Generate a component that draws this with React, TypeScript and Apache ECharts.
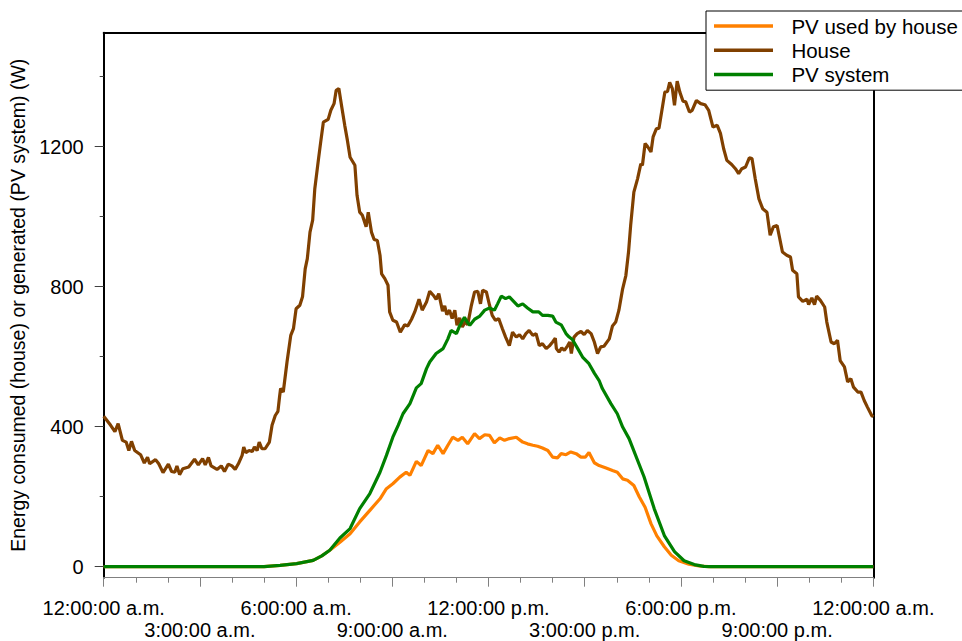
import React, { useEffect, useRef } from "react";
import * as echarts from "echarts";

// x axis: minutes since midnight, ticks every 3 hours
const tickLabels = [
  "12:00:00 a.m.", "3:00:00 a.m.", "6:00:00 a.m.", "9:00:00 a.m.",
  "12:00:00 p.m.", "3:00:00 p.m.", "6:00:00 p.m.", "9:00:00 p.m.", "12:00:00 a.m.",
];
const xLabelRow1 = [0, 360, 720, 1080, 1440];
const xLabelRow2 = [180, 540, 900, 1260];
const yLabelValues = [0, 400, 800, 1200];
const yMinorValues = [200, 600, 1000, 1400];

const seriesNames = ["PV used by house", "House", "PV system"];
const seriesColors = ["#ff8000", "#804000", "#008000"];

// House consumption (W)
const houseTime = [
  0, 13, 21, 27, 35, 42, 47, 52, 58, 69,
  76, 82, 86, 97, 103, 111, 121, 127, 133, 137,
  142, 148, 159, 170, 177, 185, 190, 196, 201, 212,
  220, 226, 233, 240, 246, 252, 259, 262, 266, 272,
  278, 282, 287, 291, 296, 302, 310, 315, 321, 326,
  329, 331, 336, 343, 350, 355, 360, 367, 372, 377,
  381, 386, 391, 395, 402, 406, 411, 420, 425, 431,
  435, 440, 445, 451, 456, 461, 470, 474, 479, 484,
  491, 495, 501, 506, 512, 517, 520, 526, 532, 535,
  541, 548, 555, 563, 569, 576, 582, 590, 596, 604,
  610, 617, 622, 627, 634, 638, 642, 647, 652, 657,
  661, 666, 671, 677, 681, 688, 694, 700, 705, 709,
  716, 722, 727, 733, 739, 746, 752, 759, 765, 772,
  778, 784, 790, 796, 803, 809, 815, 821, 828, 834,
  840, 845, 847, 852, 857, 862, 868, 872, 875, 880,
  886, 893, 899, 905, 912, 918, 924, 930, 936, 946,
  952, 958, 964, 971, 977, 982, 986, 992, 999, 1005,
  1008, 1013, 1017, 1024, 1028, 1034, 1039, 1045, 1050, 1055,
  1059, 1064, 1068, 1073, 1078, 1084, 1089, 1096, 1101, 1109,
  1117, 1125, 1132, 1140, 1148, 1154, 1160, 1166, 1175, 1182,
  1188, 1194, 1201, 1208, 1213, 1219, 1226, 1233, 1241, 1247,
  1253, 1260, 1265, 1270, 1278, 1285, 1289, 1297, 1300, 1308,
  1316, 1319, 1325, 1330, 1334, 1341, 1349, 1353, 1361, 1367,
  1373, 1378, 1386, 1392, 1398, 1403, 1411, 1417, 1423, 1429,
  1437, 1440,
];
const houseWatts = [
  430, 404, 386, 409, 361, 356, 332, 358, 332, 320,
  296, 313, 294, 306, 294, 269, 293, 272, 270, 288,
  263, 280, 285, 307, 291, 309, 291, 312, 288, 278,
  288, 272, 293, 288, 278, 294, 318, 342, 326, 332,
  329, 342, 332, 356, 337, 337, 356, 404, 432, 444,
  485, 509, 499, 585, 661, 680, 737, 747, 771, 851,
  880, 956, 990, 1080, 1166, 1213, 1270, 1278, 1304, 1323,
  1361, 1366, 1318, 1261, 1218, 1170, 1147, 1061, 1013, 1004,
  971, 1013, 956, 935, 932, 890, 837, 823, 804, 728,
  704, 699, 670, 691, 688, 707, 728, 764, 733, 756,
  787, 775, 764, 780, 730, 745, 720, 733, 709, 733,
  690, 711, 685, 701, 691, 747, 785, 787, 751, 790,
  785, 747, 718, 704, 709, 680, 656, 632, 670, 656,
  663, 651, 666, 675, 661, 666, 632, 637, 623, 631,
  642, 653, 623, 613, 625, 618, 631, 642, 609, 656,
  666, 672, 663, 675, 666, 642, 609, 628, 630, 651,
  688, 699, 733, 794, 832, 899, 975, 1070, 1109, 1151,
  1147, 1209, 1202, 1185, 1228, 1251, 1253, 1309, 1356, 1358,
  1384, 1366, 1318, 1387, 1356, 1330, 1328, 1299, 1304, 1332,
  1323, 1320, 1304, 1256, 1261, 1238, 1194, 1161, 1149, 1137,
  1123, 1137, 1142, 1168, 1166, 1109, 1051, 1023, 1013, 947,
  971, 975, 937, 899, 890, 885, 847, 837, 771, 758,
  764, 749, 768, 749, 773, 761, 742, 699, 642, 637,
  647, 589, 571, 528, 537, 513, 499, 499, 475, 456,
  432, 428,
];

// PV system generation (W)
const pvTime = [
  0, 300, 330, 361, 392, 408, 423, 442, 461, 479,
  498, 517, 529, 541, 551, 560, 573, 585, 594, 604,
  610, 622, 635, 644, 650, 660, 666, 675, 680, 685,
  694, 703, 713, 722, 731, 737, 744, 752, 759, 767,
  775, 784, 793, 803, 814, 821, 831, 840, 846, 856,
  865, 871, 877, 887, 896, 908, 918, 927, 933, 949,
  961, 971, 983, 1011, 1030, 1049, 1068, 1086, 1105, 1123,
  1136, 1440,
];
const pvWatts = [
  0, 0, 4, 9, 18, 31, 47, 82, 109, 166,
  209, 270, 318, 370, 404, 437, 466, 511, 523, 566,
  585, 609, 623, 651, 675, 666, 688, 713, 699, 690,
  707, 715, 733, 739, 733, 751, 773, 766, 771, 758,
  745, 751, 739, 728, 728, 718, 718, 716, 699, 691,
  666, 656, 649, 623, 599, 580, 553, 532, 509, 466,
  437, 399, 366, 257, 166, 89, 43, 17, 6, 1,
  0, 0,
];

// PV used by house (W)
const usedTime = [
  0, 300, 330, 361, 392, 408, 423, 442, 461, 479,
  498, 517, 529, 541, 554, 566, 573, 585, 594, 607,
  616, 625, 635, 644, 653, 663, 671, 681, 694, 703,
  713, 722, 731, 741, 750, 759, 772, 784, 793, 803,
  812, 821, 831, 840, 849, 856, 865, 874, 884, 893,
  901, 908, 918, 927, 940, 952, 961, 971, 980, 992,
  1002, 1013, 1024, 1035, 1049, 1062, 1076, 1095, 1114, 1132,
  1440,
];
const usedWatts = [
  0, 0, 4, 9, 18, 31, 47, 70, 94, 128,
  161, 194, 223, 237, 256, 270, 261, 301, 289, 332,
  323, 347, 323, 347, 370, 361, 370, 351, 380, 366,
  377, 375, 354, 368, 361, 366, 370, 356, 351, 347,
  344, 339, 332, 313, 311, 323, 320, 328, 323, 313,
  313, 326, 297, 289, 282, 275, 270, 251, 247, 232,
  200, 170, 123, 88, 57, 33, 17, 7, 2, 0,
  0,
];

const pairs = (t: number[], v: number[]) => t.map((x, i) => [x, v[i]]);

const FONT = "'Liberation Sans', Arial, Helvetica, sans-serif";
const Y_MIN = -31.4;
const Y_MAX = 1525.7;

export default function App() {
  const ref = useRef<HTMLDivElement>(null);

  useEffect(() => {
    document.body.style.margin = "0";
    const chart = echarts.init(ref.current!, null, { renderer: "svg" });

    const hiddenX = {
      type: "value",
      min: 0,
      max: 1440,
      splitLine: { show: false },
      axisLabel: { show: false },
    };
    const hiddenY = {
      type: "value",
      min: Y_MIN,
      max: Y_MAX,
      splitLine: { show: false },
      axisLabel: { show: false },
    };
    const xLabel = (customValues: number[], margin: number) => ({
      show: true,
      customValues,
      showMinLabel: true,
      showMaxLabel: true,
      hideOverlap: false,
      margin,
      fontSize: 20,
      fontFamily: FONT,
      color: "#000",
      formatter: (value: number) => tickLabels[Math.round(value / 180)] ?? "",
    });

    chart.setOption({
      animation: false,
      backgroundColor: "#ffffff",
      textStyle: { fontFamily: FONT, color: "#000" },
      grid: {
        left: 103.7,
        right: 88.7,
        top: 32.7,
        bottom: 63.3,
        containLabel: false,
        outerBoundsMode: "none",
      },
      legend: {
        orient: "vertical",
        left: 706,
        top: 11,
        data: seriesNames,
        icon: "rect",
        itemWidth: 59,
        itemHeight: 3.5,
        itemGap: 0,
        padding: [3, 14, 3.6, 8],
        backgroundColor: "#ffffff",
        borderColor: "#000000",
        borderWidth: 1,
        borderRadius: 0,
        selectedMode: false,
        textStyle: {
          fontFamily: FONT,
          fontSize: 20.5,
          color: "#000",
          lineHeight: 24.2,
          padding: [0, 0, 0, 13.4],
        },
        z: 10,
      },
      xAxis: [
        {
          type: "value",
          min: 0,
          max: 1440,
          interval: 180,
          position: "bottom",
          splitLine: { show: false },
          axisLine: { show: true, onZero: false, lineStyle: { color: "#808080", width: 1 } },
          axisTick: { show: true, length: 9, lineStyle: { color: "#808080", width: 1 } },
          axisLabel: xLabel(xLabelRow1, 20),
        },
        {
          ...hiddenX,
          interval: 60,
          position: "bottom",
          axisLine: { show: false, onZero: false },
          axisTick: { show: true, length: 5, lineStyle: { color: "#808080", width: 1 } },
        },
        {
          ...hiddenX,
          position: "top",
          axisLine: { show: true, onZero: false, lineStyle: { color: "#000", width: 2 } },
          axisTick: { show: false },
        },
        {
          ...hiddenX,
          position: "bottom",
          axisLine: { show: false, onZero: false },
          axisTick: { show: false },
          axisLabel: xLabel(xLabelRow2, 42.3),
        },
      ],
      yAxis: [
        {
          type: "value",
          min: Y_MIN,
          max: Y_MAX,
          position: "left",
          splitLine: { show: false },
          axisLine: { show: true, onZero: false, lineStyle: { color: "#000", width: 2 } },
          axisTick: {
            show: true,
            length: 9,
            customValues: yLabelValues,
            lineStyle: { color: "#404040", width: 1 },
          },
          axisLabel: {
            show: true,
            customValues: yLabelValues,
            margin: 20,
            fontSize: 20,
            fontFamily: FONT,
            color: "#000",
            formatter: (value: number) => String(Math.round(value)),
          },
          name: "Energy consumed (house) or generated (PV system) (W)",
          nameLocation: "middle",
          nameRotate: 90,
          nameGap: 62,
          nameTextStyle: { fontSize: 19.5, fontFamily: FONT, color: "#000" },
        },
        {
          ...hiddenY,
          position: "left",
          axisLine: { show: false, onZero: false },
          axisTick: {
            show: true,
            length: 4,
            customValues: yMinorValues,
            lineStyle: { color: "#404040", width: 1 },
          },
        },
        {
          ...hiddenY,
          position: "right",
          axisLine: { show: true, onZero: false, lineStyle: { color: "#000", width: 2 } },
          axisTick: { show: false },
        },
      ],
      series: [
        {
          name: seriesNames[0],
          type: "line",
          xAxisIndex: 0,
          yAxisIndex: 0,
          data: pairs(usedTime, usedWatts),
          symbol: "none",
          showSymbol: false,
          color: seriesColors[0],
          lineStyle: { color: seriesColors[0], width: 3.2 },
          z: 2,
        },
        {
          name: seriesNames[1],
          type: "line",
          xAxisIndex: 0,
          yAxisIndex: 0,
          data: pairs(houseTime, houseWatts),
          symbol: "none",
          showSymbol: false,
          color: seriesColors[1],
          lineStyle: { color: seriesColors[1], width: 3.2 },
          z: 3,
        },
        {
          name: seriesNames[2],
          type: "line",
          xAxisIndex: 0,
          yAxisIndex: 0,
          data: pairs(pvTime, pvWatts),
          symbol: "none",
          showSymbol: false,
          color: seriesColors[2],
          lineStyle: { color: seriesColors[2], width: 3.2 },
          z: 4,
        },
      ],
    });

    return () => {
      chart.dispose();
    };
  }, []);

  return (
    <div
      ref={ref}
      style={{ position: "absolute", left: 0, top: 0, width: 962, height: 641 }}
    />
  );
}
